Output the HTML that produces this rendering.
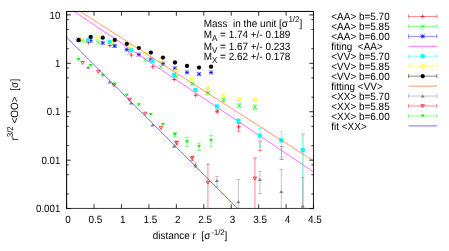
<!DOCTYPE html><html><head><meta charset="utf-8"><style>html,body{margin:0;padding:0;background:#fff;width:449px;height:251px;overflow:hidden}</style></head><body><svg width="449" height="251" viewBox="0 0 449 251" style="position:absolute;left:0;top:0;will-change:transform;opacity:0.999">
<rect x="0" y="0" width="449" height="251" fill="#fff"/>
<defs><clipPath id="c"><rect x="66.60" y="11.45" width="246.95" height="197.10"/></clipPath></defs>
<g clip-path="url(#c)">
<path d="M217.22 110.00V112.80M215.22 110.00h4.00M215.22 112.80h4.00" stroke="#ff0000" stroke-width="0.47" fill="none"/>
<path d="M238.68 123.50V131.30M236.68 123.50h4.00M236.68 131.30h4.00" stroke="#ff0000" stroke-width="0.47" fill="none"/>
<path d="M260.14 141.10V150.50M258.14 141.10h4.00M258.14 150.50h4.00" stroke="#ff0000" stroke-width="0.47" fill="none"/>
<path d="M281.60 146.50V159.50M279.60 146.50h4.00M279.60 159.50h4.00" stroke="#ff0000" stroke-width="0.47" fill="none"/>
<path d="M303.06 133.60V208.55M301.06 133.60h4.00" stroke="#ff0000" stroke-width="0.47" fill="none" stroke-opacity="0.55"/>
<path d="M86.36 42.60h4.20M88.46 40.50v4.20" stroke="#ff0000" stroke-width="0.72" fill="none"/>
<path d="M107.82 45.60h4.20M109.92 43.50v4.20" stroke="#ff0000" stroke-width="0.72" fill="none"/>
<path d="M129.28 55.00h4.20M131.38 52.90v4.20" stroke="#ff0000" stroke-width="0.72" fill="none"/>
<path d="M150.74 66.80h4.20M152.84 64.70v4.20" stroke="#ff0000" stroke-width="0.72" fill="none"/>
<path d="M172.20 79.50h4.20M174.30 77.40v4.20" stroke="#ff0000" stroke-width="0.72" fill="none"/>
<path d="M193.66 95.30h4.20M195.76 93.20v4.20" stroke="#ff0000" stroke-width="0.72" fill="none"/>
<path d="M215.12 111.30h4.20M217.22 109.20v4.20" stroke="#ff0000" stroke-width="0.72" fill="none"/>
<path d="M236.58 126.90h4.20M238.68 124.80v4.20" stroke="#ff0000" stroke-width="0.72" fill="none"/>
<path d="M300.96 150.10h4.20M303.06 148.00v4.20" stroke="#ff0000" stroke-width="0.72" fill="none"/>
<path d="M192.26 83.00V84.80M190.26 83.00h4.00M190.26 84.80h4.00" stroke="#00ff00" stroke-width="0.47" fill="none"/>
<path d="M207.93 91.80V94.00M205.93 91.80h4.00M205.93 94.00h4.00" stroke="#00ff00" stroke-width="0.47" fill="none"/>
<path d="M223.60 98.80V101.80M221.60 98.80h4.00M221.60 101.80h4.00" stroke="#00ff00" stroke-width="0.47" fill="none"/>
<path d="M239.27 103.80V107.30M237.27 103.80h4.00M237.27 107.30h4.00" stroke="#00ff00" stroke-width="0.47" fill="none"/>
<path d="M254.94 105.00V109.30M252.94 105.00h4.00M252.94 109.30h4.00" stroke="#00ff00" stroke-width="0.47" fill="none"/>
<path d="M80.57 39.00l4.00 4.00M80.57 43.00l4.00 -4.00" stroke="#00ff00" stroke-width="0.72" fill="none"/>
<path d="M96.24 40.20l4.00 4.00M96.24 44.20l4.00 -4.00" stroke="#00ff00" stroke-width="0.72" fill="none"/>
<path d="M111.91 44.00l4.00 4.00M111.91 48.00l4.00 -4.00" stroke="#00ff00" stroke-width="0.72" fill="none"/>
<path d="M127.58 50.60l4.00 4.00M127.58 54.60l4.00 -4.00" stroke="#00ff00" stroke-width="0.72" fill="none"/>
<path d="M143.25 57.70l4.00 4.00M143.25 61.70l4.00 -4.00" stroke="#00ff00" stroke-width="0.72" fill="none"/>
<path d="M158.92 65.20l4.00 4.00M158.92 69.20l4.00 -4.00" stroke="#00ff00" stroke-width="0.72" fill="none"/>
<path d="M174.59 74.40l4.00 4.00M174.59 78.40l4.00 -4.00" stroke="#00ff00" stroke-width="0.72" fill="none"/>
<path d="M190.26 81.80l4.00 4.00M190.26 85.80l4.00 -4.00" stroke="#00ff00" stroke-width="0.72" fill="none"/>
<path d="M205.93 90.90l4.00 4.00M205.93 94.90l4.00 -4.00" stroke="#00ff00" stroke-width="0.72" fill="none"/>
<path d="M221.60 98.20l4.00 4.00M221.60 102.20l4.00 -4.00" stroke="#00ff00" stroke-width="0.72" fill="none"/>
<path d="M237.27 103.50l4.00 4.00M237.27 107.50l4.00 -4.00" stroke="#00ff00" stroke-width="0.72" fill="none"/>
<path d="M252.94 105.10l4.00 4.00M252.94 109.10l4.00 -4.00" stroke="#00ff00" stroke-width="0.72" fill="none"/>
<path d="M76.54 39.60h4.20M78.64 37.50v4.20" stroke="#0000ff" stroke-width="0.72" fill="none"/><path d="M76.64 37.60l4.00 4.00M76.64 41.60l4.00 -4.00" stroke="#0000ff" stroke-width="0.72" fill="none"/>
<path d="M88.58 40.60h4.20M90.68 38.50v4.20" stroke="#0000ff" stroke-width="0.72" fill="none"/><path d="M88.68 38.60l4.00 4.00M88.68 42.60l4.00 -4.00" stroke="#0000ff" stroke-width="0.72" fill="none"/>
<path d="M100.62 42.90h4.20M102.72 40.80v4.20" stroke="#0000ff" stroke-width="0.72" fill="none"/><path d="M100.72 40.90l4.00 4.00M100.72 44.90l4.00 -4.00" stroke="#0000ff" stroke-width="0.72" fill="none"/>
<path d="M112.66 45.90h4.20M114.76 43.80v4.20" stroke="#0000ff" stroke-width="0.72" fill="none"/><path d="M112.76 43.90l4.00 4.00M112.76 47.90l4.00 -4.00" stroke="#0000ff" stroke-width="0.72" fill="none"/>
<path d="M124.70 49.60h4.20M126.80 47.50v4.20" stroke="#0000ff" stroke-width="0.72" fill="none"/><path d="M124.80 47.60l4.00 4.00M124.80 51.60l4.00 -4.00" stroke="#0000ff" stroke-width="0.72" fill="none"/>
<path d="M136.74 54.60h4.20M138.84 52.50v4.20" stroke="#0000ff" stroke-width="0.72" fill="none"/><path d="M136.84 52.60l4.00 4.00M136.84 56.60l4.00 -4.00" stroke="#0000ff" stroke-width="0.72" fill="none"/>
<path d="M148.78 59.40h4.20M150.88 57.30v4.20" stroke="#0000ff" stroke-width="0.72" fill="none"/><path d="M148.88 57.40l4.00 4.00M148.88 61.40l4.00 -4.00" stroke="#0000ff" stroke-width="0.72" fill="none"/>
<path d="M160.82 63.60h4.20M162.92 61.50v4.20" stroke="#0000ff" stroke-width="0.72" fill="none"/><path d="M160.92 61.60l4.00 4.00M160.92 65.60l4.00 -4.00" stroke="#0000ff" stroke-width="0.72" fill="none"/>
<path d="M172.86 68.30h4.20M174.96 66.20v4.20" stroke="#0000ff" stroke-width="0.72" fill="none"/><path d="M172.96 66.30l4.00 4.00M172.96 70.30l4.00 -4.00" stroke="#0000ff" stroke-width="0.72" fill="none"/>
<path d="M184.90 72.40h4.20M187.00 70.30v4.20" stroke="#0000ff" stroke-width="0.72" fill="none"/><path d="M185.00 70.40l4.00 4.00M185.00 74.40l4.00 -4.00" stroke="#0000ff" stroke-width="0.72" fill="none"/>
<path d="M196.94 74.10h4.20M199.04 72.00v4.20" stroke="#0000ff" stroke-width="0.72" fill="none"/><path d="M197.04 72.10l4.00 4.00M197.04 76.10l4.00 -4.00" stroke="#0000ff" stroke-width="0.72" fill="none"/>
<path d="M208.98 72.50h4.20M211.08 70.40v4.20" stroke="#0000ff" stroke-width="0.72" fill="none"/><path d="M209.08 70.50l4.00 4.00M209.08 74.50l4.00 -4.00" stroke="#0000ff" stroke-width="0.72" fill="none"/>
<path d="M73.6 11.1L313.6 171.9" stroke="#ff00ff" stroke-width="0.57"/>
<path d="M238.38 119.20V122.40M236.38 119.20h4.00M236.38 122.40h4.00" stroke="#00ffff" stroke-width="0.47" fill="none"/>
<path d="M259.84 128.40V146.40M257.84 128.40h4.00M257.84 146.40h4.00" stroke="#00ffff" stroke-width="0.47" fill="none"/>
<path d="M281.30 131.40V157.50M279.30 131.40h4.00M279.30 157.50h4.00" stroke="#00ffff" stroke-width="0.47" fill="none"/>
<path d="M302.76 135.10V208.55M300.76 135.10h4.00" stroke="#00ffff" stroke-width="0.47" fill="none"/>
<rect x="86.11" y="38.15" width="4.10" height="4.10" fill="#00ffff"/>
<rect x="107.57" y="39.75" width="4.10" height="4.10" fill="#00ffff"/>
<rect x="129.03" y="48.15" width="4.10" height="4.10" fill="#00ffff"/>
<rect x="150.49" y="58.95" width="4.10" height="4.10" fill="#00ffff"/>
<rect x="171.95" y="72.75" width="4.10" height="4.10" fill="#00ffff"/>
<rect x="193.41" y="87.85" width="4.10" height="4.10" fill="#00ffff"/>
<rect x="214.87" y="104.35" width="4.10" height="4.10" fill="#00ffff"/>
<rect x="236.33" y="118.65" width="4.10" height="4.10" fill="#00ffff"/>
<rect x="257.79" y="133.55" width="4.10" height="4.10" fill="#00ffff"/>
<rect x="279.25" y="138.25" width="4.10" height="4.10" fill="#00ffff"/>
<rect x="300.71" y="148.05" width="4.10" height="4.10" fill="#00ffff"/>
<path d="M192.26 78.00V80.00M190.26 78.00h4.00M190.26 80.00h4.00" stroke="#ffff00" stroke-width="0.47" fill="none"/>
<path d="M207.93 87.00V89.30M205.93 87.00h4.00M205.93 89.30h4.00" stroke="#ffff00" stroke-width="0.47" fill="none"/>
<path d="M223.60 94.30V97.00M221.60 94.30h4.00M221.60 97.00h4.00" stroke="#ffff00" stroke-width="0.47" fill="none"/>
<path d="M239.27 98.60V101.50M237.27 98.60h4.00M237.27 101.50h4.00" stroke="#ffff00" stroke-width="0.47" fill="none"/>
<path d="M254.94 98.20V101.50M252.94 98.20h4.00M252.94 101.50h4.00" stroke="#ffff00" stroke-width="0.47" fill="none"/>
<circle cx="82.57" cy="39.90" r="1.75" fill="none" stroke="#ffff00" stroke-width="0.90"/>
<circle cx="98.24" cy="37.90" r="1.75" fill="none" stroke="#ffff00" stroke-width="0.90"/>
<circle cx="113.91" cy="41.90" r="1.75" fill="none" stroke="#ffff00" stroke-width="0.90"/>
<circle cx="129.58" cy="46.50" r="1.75" fill="none" stroke="#ffff00" stroke-width="0.90"/>
<circle cx="145.25" cy="54.00" r="1.75" fill="none" stroke="#ffff00" stroke-width="0.90"/>
<circle cx="160.92" cy="60.70" r="1.75" fill="none" stroke="#ffff00" stroke-width="0.90"/>
<circle cx="176.59" cy="70.30" r="1.75" fill="none" stroke="#ffff00" stroke-width="0.90"/>
<circle cx="192.26" cy="79.00" r="1.75" fill="none" stroke="#ffff00" stroke-width="0.90"/>
<circle cx="207.93" cy="88.10" r="1.75" fill="none" stroke="#ffff00" stroke-width="0.90"/>
<circle cx="223.60" cy="95.60" r="1.75" fill="none" stroke="#ffff00" stroke-width="0.90"/>
<circle cx="239.27" cy="100.00" r="1.75" fill="none" stroke="#ffff00" stroke-width="0.90"/>
<circle cx="254.94" cy="99.80" r="1.75" fill="none" stroke="#ffff00" stroke-width="0.90"/>
<circle cx="78.64" cy="40.20" r="2.15" fill="#000000"/>
<circle cx="90.68" cy="36.90" r="2.15" fill="#000000"/>
<circle cx="102.72" cy="37.70" r="2.15" fill="#000000"/>
<circle cx="114.76" cy="40.00" r="2.15" fill="#000000"/>
<circle cx="126.80" cy="43.80" r="2.15" fill="#000000"/>
<circle cx="138.84" cy="48.10" r="2.15" fill="#000000"/>
<circle cx="150.88" cy="52.60" r="2.15" fill="#000000"/>
<circle cx="162.92" cy="57.60" r="2.15" fill="#000000"/>
<circle cx="174.96" cy="62.50" r="2.15" fill="#000000"/>
<circle cx="187.00" cy="66.00" r="2.15" fill="#000000"/>
<circle cx="199.04" cy="67.60" r="2.15" fill="#000000"/>
<circle cx="211.08" cy="66.70" r="2.15" fill="#000000"/>
<path d="M79.6 11.1L313.6 160.9" stroke="#ff4d00" stroke-width="0.57"/>
<path d="M195.46 163.00V167.60M193.46 163.00h4.00M193.46 167.60h4.00" stroke="#808080" stroke-width="0.47" fill="none"/>
<path d="M216.92 176.40V187.00M214.92 176.40h4.00M214.92 187.00h4.00" stroke="#808080" stroke-width="0.47" fill="none"/>
<path d="M238.38 179.60V208.55M236.38 179.60h4.00" stroke="#808080" stroke-width="0.47" fill="none"/>
<path d="M259.84 171.40V193.50M257.84 171.40h4.00M257.84 193.50h4.00" stroke="#808080" stroke-width="0.47" fill="none"/>
<path d="M281.30 169.30V208.55M279.30 169.30h4.00" stroke="#808080" stroke-width="0.47" fill="none"/>
<path d="M302.76 177.40V208.55M300.76 177.40h4.00" stroke="#808080" stroke-width="0.47" fill="none"/>
<path d="M88.16 65.80L86.11 68.80L90.21 68.80Z" fill="#808080"/>
<path d="M109.62 80.50L107.57 83.50L111.67 83.50Z" fill="#808080"/>
<path d="M131.08 101.60L129.03 104.60L133.13 104.60Z" fill="#808080"/>
<path d="M152.54 123.40L150.49 126.40L154.59 126.40Z" fill="#808080"/>
<path d="M174.00 144.80L171.95 147.80L176.05 147.80Z" fill="#808080"/>
<path d="M195.46 163.50L193.41 166.50L197.51 166.50Z" fill="#808080"/>
<path d="M216.92 178.90L214.87 181.90L218.97 181.90Z" fill="#808080"/>
<path d="M238.38 200.20L236.33 203.20L240.43 203.20Z" fill="#808080"/>
<path d="M259.84 177.90L257.79 180.90L261.89 180.90Z" fill="#808080"/>
<path d="M281.30 190.00L279.25 193.00L283.35 193.00Z" fill="#808080"/>
<path d="M302.76 204.50L300.71 207.50L304.81 207.50Z" fill="#808080"/>
<path d="M176.59 141.00V145.00M174.59 141.00h4.00M174.59 145.00h4.00" stroke="#ff0000" stroke-width="0.47" fill="none"/>
<path d="M192.26 156.60V160.50M190.26 156.60h4.00M190.26 160.50h4.00" stroke="#ff0000" stroke-width="0.47" fill="none"/>
<path d="M207.93 164.20V208.55M205.93 164.20h4.00" stroke="#ff0000" stroke-width="0.47" fill="none"/>
<path d="M254.94 158.00V208.55M252.94 158.00h4.00" stroke="#ff0000" stroke-width="0.47" fill="none"/>
<path d="M82.57 64.45L80.82 61.55L84.32 61.55Z" fill="none" stroke="#ff0000" stroke-width="0.72"/>
<path d="M98.24 73.25L96.49 70.35L99.99 70.35Z" fill="none" stroke="#ff0000" stroke-width="0.72"/>
<path d="M113.91 86.75L112.16 83.85L115.66 83.85Z" fill="none" stroke="#ff0000" stroke-width="0.72"/>
<path d="M129.58 101.25L127.83 98.35L131.33 98.35Z" fill="none" stroke="#ff0000" stroke-width="0.72"/>
<path d="M145.25 115.15L143.50 112.25L147.00 112.25Z" fill="none" stroke="#ff0000" stroke-width="0.72"/>
<path d="M160.92 129.35L159.17 126.45L162.67 126.45Z" fill="none" stroke="#ff0000" stroke-width="0.72"/>
<path d="M176.59 144.45L174.84 141.55L178.34 141.55Z" fill="none" stroke="#ff0000" stroke-width="0.72"/>
<path d="M192.26 159.65L190.51 156.75L194.01 156.75Z" fill="none" stroke="#ff0000" stroke-width="0.72"/>
<path d="M207.93 184.15L206.18 181.25L209.68 181.25Z" fill="none" stroke="#ff0000" stroke-width="0.72"/>
<path d="M254.94 179.95L253.19 177.05L256.69 177.05Z" fill="none" stroke="#ff0000" stroke-width="0.72"/>
<path d="M174.96 132.60V136.60M172.96 132.60h4.00M172.96 136.60h4.00" stroke="#00ff00" stroke-width="0.47" fill="none"/>
<path d="M187.00 137.40V146.40M185.00 137.40h4.00M185.00 146.40h4.00" stroke="#00ff00" stroke-width="0.47" fill="none"/>
<path d="M199.04 143.00V150.50M197.04 143.00h4.00M197.04 150.50h4.00" stroke="#00ff00" stroke-width="0.47" fill="none"/>
<path d="M211.08 135.40V147.00M209.08 135.40h4.00M209.08 147.00h4.00" stroke="#00ff00" stroke-width="0.47" fill="none"/>
<path d="M78.64 61.00L76.59 58.00L80.69 58.00Z" fill="#00ff00"/>
<path d="M90.68 67.10L88.63 64.10L92.73 64.10Z" fill="#00ff00"/>
<path d="M102.72 76.90L100.67 73.90L104.77 73.90Z" fill="#00ff00"/>
<path d="M114.76 85.50L112.71 82.50L116.81 82.50Z" fill="#00ff00"/>
<path d="M126.80 96.80L124.75 93.80L128.85 93.80Z" fill="#00ff00"/>
<path d="M138.84 106.20L136.79 103.20L140.89 103.20Z" fill="#00ff00"/>
<path d="M150.88 116.10L148.83 113.10L152.93 113.10Z" fill="#00ff00"/>
<path d="M162.92 126.10L160.87 123.10L164.97 123.10Z" fill="#00ff00"/>
<path d="M174.96 136.00L172.91 133.00L177.01 133.00Z" fill="#00ff00"/>
<path d="M187.00 143.20L184.95 140.20L189.05 140.20Z" fill="#00ff00"/>
<path d="M199.04 147.90L196.99 144.90L201.09 144.90Z" fill="#00ff00"/>
<path d="M211.08 141.90L209.03 138.90L213.13 138.90Z" fill="#00ff00"/>
<path d="M66.6 37.3L237.1 208" stroke="#0000ff" stroke-width="0.57"/>
</g>
<path d="M66.60 14.90h4.30M313.55 14.90h-4.30M66.60 19.59h2.20M313.55 19.59h-2.20M66.60 29.48h2.20M313.55 29.48h-2.20M66.60 48.74h2.20M313.55 48.74h-2.20M66.60 63.32h4.30M313.55 63.32h-4.30M66.60 68.01h2.20M313.55 68.01h-2.20M66.60 77.90h2.20M313.55 77.90h-2.20M66.60 97.16h2.20M313.55 97.16h-2.20M66.60 111.74h4.30M313.55 111.74h-4.30M66.60 116.43h2.20M313.55 116.43h-2.20M66.60 126.32h2.20M313.55 126.32h-2.20M66.60 145.58h2.20M313.55 145.58h-2.20M66.60 160.16h4.30M313.55 160.16h-4.30M66.60 164.85h2.20M313.55 164.85h-2.20M66.60 174.74h2.20M313.55 174.74h-2.20M66.60 194.00h2.20M313.55 194.00h-2.20M66.60 208.58h4.30M313.55 208.58h-4.30M66.60 208.55v-4.30M66.60 11.45v4.30M94.04 208.55v-4.30M94.04 11.45v4.30M121.48 208.55v-4.30M121.48 11.45v4.30M148.92 208.55v-4.30M148.92 11.45v4.30M176.36 208.55v-4.30M176.36 11.45v4.30M203.79 208.55v-4.30M203.79 11.45v4.30M231.23 208.55v-4.30M231.23 11.45v4.30M258.67 208.55v-4.30M258.67 11.45v4.30M286.11 208.55v-4.30M286.11 11.45v4.30M313.55 208.55v-4.30M313.55 11.45v4.30" stroke="#000" stroke-width="0.8" fill="none"/>
<path d="M66.10 11.45H314.00" stroke="#000" stroke-width="1.0" fill="none"/>
<path d="M66.10 208.45H314.00" stroke="#000" stroke-width="0.78" fill="none"/>
<path d="M66.60 11.45V208.55" stroke="#000" stroke-width="1.05" fill="none"/>
<path d="M313.45 11.45V208.55" stroke="#000" stroke-width="0.9" fill="none"/>
<g font-family="Liberation Sans, sans-serif" font-size="10px" fill="#000" text-rendering="geometricPrecision">
<text transform="translate(60.30,18.50) scale(0.970,1.050)" text-anchor="end">10</text>
<text transform="translate(60.30,66.92) scale(0.970,1.050)" text-anchor="end">1</text>
<text transform="translate(60.30,115.34) scale(0.970,1.050)" text-anchor="end">0.1</text>
<text transform="translate(60.30,163.76) scale(0.970,1.050)" text-anchor="end">0.01</text>
<text transform="translate(60.30,212.18) scale(0.970,1.050)" text-anchor="end">0.001</text>
<text transform="translate(68.00,222.70) scale(0.995,1.050)" text-anchor="middle">0</text>
<text transform="translate(95.44,222.70) scale(0.995,1.050)" text-anchor="middle">0.5</text>
<text transform="translate(122.88,222.70) scale(0.995,1.050)" text-anchor="middle">1</text>
<text transform="translate(150.32,222.70) scale(0.995,1.050)" text-anchor="middle">1.5</text>
<text transform="translate(177.76,222.70) scale(0.995,1.050)" text-anchor="middle">2</text>
<text transform="translate(205.19,222.70) scale(0.995,1.050)" text-anchor="middle">2.5</text>
<text transform="translate(232.63,222.70) scale(0.995,1.050)" text-anchor="middle">3</text>
<text transform="translate(260.07,222.70) scale(0.995,1.050)" text-anchor="middle">3.5</text>
<text transform="translate(287.51,222.70) scale(0.995,1.050)" text-anchor="middle">4</text>
<text transform="translate(314.95,222.70) scale(0.995,1.050)" text-anchor="middle">4.5</text>
<text transform="translate(152.70,239.20) scale(0.995,1.050)" text-anchor="start">distance r&#160;&#160;[σ<tspan font-size="7.6px" dy="-4.2" dx="1.2">-1/2</tspan><tspan dy="4.2">]</tspan></text>
<text transform="translate(18.00,140.60) rotate(-90) scale(0.995,1.050)" text-anchor="start">r<tspan font-size="8px" dy="-5">3/2</tspan><tspan dy="5">&#160;&lt;OO&gt;&#160;&#160;[σ</tspan><tspan dx="0.5">]</tspan></text>
<text transform="translate(203.70,27.10) scale(0.995,1.050)" text-anchor="start">Mass&#160;&#160;in the unit [σ<tspan font-size="8px" dy="-4.5" dx="0.6">1/2</tspan><tspan dy="4.5">]</tspan></text>
<text transform="translate(203.70,38.00) scale(0.995,1.050)" text-anchor="start">M<tspan font-size="8px" dy="2.8">A</tspan><tspan dy="-2.8"> = 1.74 +/- 0.189</tspan></text>
<text transform="translate(203.70,49.70) scale(0.995,1.050)" text-anchor="start">M<tspan font-size="8px" dy="2.8">V</tspan><tspan dy="-2.8"> = 1.67 +/- 0.233</tspan></text>
<text transform="translate(203.70,60.40) scale(0.995,1.050)" text-anchor="start">M<tspan font-size="8px" dy="2.8">X</tspan><tspan dy="-2.8"> = 2.62 +/- 0.178</tspan></text>
<text transform="translate(331.30,20.15) scale(0.995,1.050)" text-anchor="start">&lt;AA&gt; b=5.70</text>
<text transform="translate(331.30,30.10) scale(0.995,1.050)" text-anchor="start">&lt;AA&gt; b=5.85</text>
<text transform="translate(331.30,40.05) scale(0.995,1.050)" text-anchor="start">&lt;AA&gt; b=6.00</text>
<text transform="translate(331.30,50.00) scale(0.995,1.050)" text-anchor="start">fiting&#160;&#160;&lt;AA&gt;</text>
<text transform="translate(331.30,59.95) scale(0.995,1.050)" text-anchor="start">&lt;VV&gt; b=5.70</text>
<text transform="translate(331.30,69.90) scale(0.995,1.050)" text-anchor="start">&lt;VV&gt; b=5.85</text>
<text transform="translate(331.30,79.85) scale(0.995,1.050)" text-anchor="start">&lt;VV&gt; b=6.00</text>
<text transform="translate(331.30,89.80) scale(0.995,1.050)" text-anchor="start">fitting &lt;VV&gt;</text>
<text transform="translate(331.30,99.75) scale(0.995,1.050)" text-anchor="start">&lt;XX&gt; b=5.70</text>
<text transform="translate(331.30,109.70) scale(0.995,1.050)" text-anchor="start">&lt;XX&gt; b=5.85</text>
<text transform="translate(331.30,119.65) scale(0.995,1.050)" text-anchor="start">&lt;XX&gt; b=6.00</text>
<text transform="translate(331.30,129.60) scale(0.995,1.050)" text-anchor="start">fit &lt;XX&gt;</text>
</g>
<path d="M408.60 16.45H436.90M408.60 14.35v4.20M436.90 14.35v4.20" stroke="#ff0000" stroke-width="0.47" fill="none"/>
<path d="M420.60 16.45h4.20M422.70 14.35v4.20" stroke="#ff0000" stroke-width="0.72" fill="none"/>
<path d="M408.60 26.40H436.90M408.60 24.30v4.20M436.90 24.30v4.20" stroke="#00ff00" stroke-width="0.47" fill="none"/>
<path d="M420.70 24.40l4.00 4.00M420.70 28.40l4.00 -4.00" stroke="#00ff00" stroke-width="0.72" fill="none"/>
<path d="M408.60 36.35H436.90M408.60 34.25v4.20M436.90 34.25v4.20" stroke="#0000ff" stroke-width="0.47" fill="none"/>
<path d="M420.60 36.35h4.20M422.70 34.25v4.20" stroke="#0000ff" stroke-width="0.72" fill="none"/><path d="M420.70 34.35l4.00 4.00M420.70 38.35l4.00 -4.00" stroke="#0000ff" stroke-width="0.72" fill="none"/>
<path d="M408.60 46.30H436.90" stroke="#ff00ff" stroke-width="0.57" fill="none"/>
<path d="M408.60 56.25H436.90M408.60 54.15v4.20M436.90 54.15v4.20" stroke="#00ffff" stroke-width="0.47" fill="none"/>
<rect x="420.65" y="54.20" width="4.10" height="4.10" fill="#00ffff"/>
<path d="M408.60 66.20H436.90M408.60 64.10v4.20M436.90 64.10v4.20" stroke="#ffff00" stroke-width="0.47" fill="none"/>
<circle cx="422.70" cy="66.20" r="1.75" fill="none" stroke="#ffff00" stroke-width="0.90"/>
<path d="M408.60 76.15H436.90M408.60 74.05v4.20M436.90 74.05v4.20" stroke="#000000" stroke-width="0.47" fill="none"/>
<circle cx="422.70" cy="76.15" r="2.15" fill="#000000"/>
<path d="M408.60 86.10H436.90" stroke="#ff4d00" stroke-width="0.57" fill="none"/>
<path d="M408.60 96.05H436.90M408.60 93.95v4.20M436.90 93.95v4.20" stroke="#808080" stroke-width="0.47" fill="none"/>
<path d="M422.70 94.55L420.65 97.55L424.75 97.55Z" fill="#808080"/>
<path d="M408.60 106.00H436.90M408.60 103.90v4.20M436.90 103.90v4.20" stroke="#ff0000" stroke-width="0.47" fill="none"/>
<path d="M422.70 107.55L420.95 104.65L424.45 104.65Z" fill="none" stroke="#ff0000" stroke-width="0.72"/>
<path d="M408.60 115.95H436.90M408.60 113.85v4.20M436.90 113.85v4.20" stroke="#00ff00" stroke-width="0.47" fill="none"/>
<path d="M422.70 117.45L420.65 114.45L424.75 114.45Z" fill="#00ff00"/>
<path d="M408.60 125.90H436.90" stroke="#0000ff" stroke-width="0.57" fill="none"/>
</svg></body></html>
